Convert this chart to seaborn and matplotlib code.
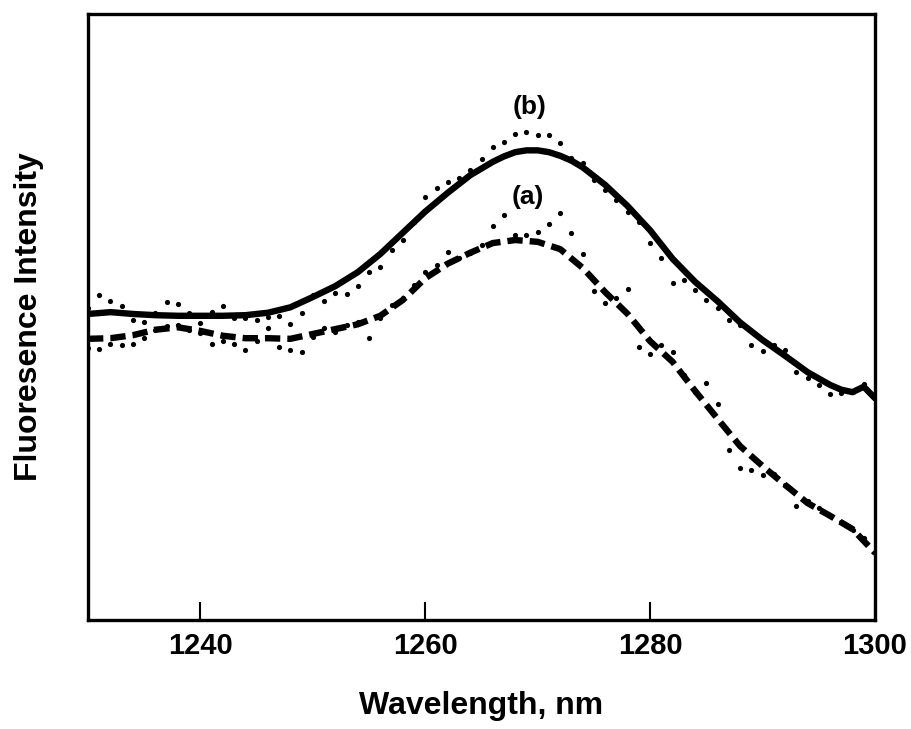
import numpy as np
import pandas as pd
import matplotlib
matplotlib.use("Agg")
import matplotlib.pyplot as plt
import seaborn as sns

sns.set_style("white")
plt.rcParams['font.family'] = ['Liberation Sans', 'DejaVu Sans']
plt.rcParams['text.color'] = 'black'
plt.rcParams['axes.labelcolor'] = 'black'
plt.rcParams['xtick.color'] = 'black'
plt.rcParams['ytick.color'] = 'black'

# Raw measured points (1 nm steps), arbitrary intensity units
wl_raw = list(range(1230, 1301))
raw_b = [51.5, 53.6, 52.6, 51.8, 49.5, 49.2, 50.7, 52.5, 52.1, 50.7,
         49.0, 50.8, 51.8, 49.8, 49.8, 49.5, 50.0, 50.2, 48.8, 50.7,
         53.6, 52.6, 54.0, 53.8, 55.1, 57.4, 58.3, 61.1, 62.7, 65.7,
         69.8, 71.3, 72.3, 72.9, 74.3, 76.1, 78.1, 78.9, 80.2, 80.5,
         80.0, 80.0, 78.7, 76.2, 75.4, 72.6, 71.0, 69.3, 67.3, 65.7,
         62.2, 59.7, 55.6, 56.1, 54.5, 52.8, 51.5, 49.5, 48.7, 45.4,
         44.4, 45.4, 44.6, 40.9, 39.9, 38.8, 37.3, 37.5, 37.6, 38.9,
         36.6]
raw_a = [44.9, 44.7, 45.5, 45.4, 45.5, 46.5, 47.9, 48.5, 48.7, 47.9,
         47.4, 45.5, 46.0, 45.5, 44.6, 46.0, 48.2, 45.0, 44.6, 44.2,
         46.7, 48.2, 47.5, 48.7, 49.2, 46.5, 49.8, 52.0, 53.1, 55.3,
         57.4, 58.6, 60.7, 59.7, 60.6, 61.9, 65.0, 66.8, 63.5, 63.5,
         64.0, 65.3, 67.2, 63.9, 60.4, 54.3, 52.3, 53.1, 54.6, 45.0,
         43.9, 45.4, 44.2, 40.4, 37.6, 39.1, 35.6, 28.1, 25.1, 24.8,
         23.9, 24.1, 22.3, 18.8, 19.6, 18.5, 17.2, 16.2, 14.9, 13.5,
         11.1]

# Smoothed curves
wl_b = [1230, 1232, 1234, 1236, 1238, 1240, 1242, 1244, 1246, 1248, 1250,
        1252, 1254, 1256, 1258, 1260, 1262, 1264, 1266, 1267, 1268, 1269,
        1270, 1271, 1272, 1273, 1274, 1276, 1278, 1280, 1282, 1284, 1286,
        1288, 1290, 1292, 1294, 1296, 1297, 1298, 1299, 1300]
smooth_b = [50.5, 50.8, 50.5, 50.3, 50.2, 50.2, 50.2, 50.3, 50.7, 51.6, 53.3,
            55.1, 57.4, 60.4, 63.9, 67.4, 70.5, 73.4, 75.6, 76.5, 77.2, 77.5,
            77.5, 77.2, 76.6, 75.8, 74.7, 71.8, 68.3, 64.3, 59.6, 55.8, 52.6,
            49.1, 46.2, 43.6, 40.9, 38.8, 38.0, 37.6, 38.5, 36.6]
wl_a = [1230, 1232, 1234, 1236, 1238, 1240, 1242, 1244, 1246, 1248, 1250,
        1252, 1254, 1256, 1258, 1260, 1262, 1264, 1266, 1268, 1270, 1272,
        1274, 1276, 1278, 1280, 1282, 1284, 1286, 1288, 1290, 1292, 1294,
        1296, 1298, 1300]
smooth_a = [46.4, 46.5, 47.0, 47.9, 48.3, 47.7, 46.9, 46.5, 46.5, 46.4, 47.2,
            48.0, 48.8, 50.2, 52.8, 56.4, 58.8, 60.6, 62.2, 62.7, 62.4, 61.2,
            58.1, 54.1, 50.5, 46.0, 42.6, 37.8, 33.2, 28.7, 25.4, 22.3, 19.3,
            17.2, 15.0, 11.1]

labels = ["(a)", "(b)"]
label_x = [1269.1, 1269.3]
label_y = [69.8, 84.7]

df_raw = pd.DataFrame({"wl": wl_raw * 2, "I": raw_a + raw_b,
                       "s": ["a"] * len(raw_a) + ["b"] * len(raw_b)})
df_b = pd.DataFrame({"wl": wl_b, "I": smooth_b})
df_a = pd.DataFrame({"wl": wl_a, "I": smooth_a})

fig = plt.figure(figsize=(9.12, 7.29), dpi=100)
ax = fig.add_axes([88 / 912, 1 - 620 / 729, (875 - 88) / 912, (620 - 14) / 729])

sns.scatterplot(data=df_raw, x="wl", y="I", ax=ax, color="black", s=14,
                linewidth=0, legend=False, zorder=2)
sns.lineplot(data=df_b, x="wl", y="I", ax=ax, color="black", lw=4.6,
             zorder=3, solid_capstyle="round", solid_joinstyle="round")
sns.lineplot(data=df_a, x="wl", y="I", ax=ax, color="black", lw=4.6,
             zorder=3, linestyle=(0, (2.4, 1.1)), dash_capstyle="butt",
             dash_joinstyle="round")

for t, xx, yy in zip(labels, label_x, label_y):
    ax.text(xx, yy, t, ha="center", va="center", fontsize=19,
            fontweight="bold", color="black")

ax.set_xlim(1230, 1300)
ax.set_ylim(0, 100)
ax.set_xticks([1240, 1260, 1280, 1300])
ax.set_yticks([])
ax.tick_params(axis="x", direction="in", length=13, width=1.5,
               labelsize=21, pad=9, bottom=True, colors="black")
for lab in ax.get_xticklabels():
    lab.set_fontweight("bold")
for sp in ax.spines.values():
    sp.set_visible(True)
    sp.set_linewidth(2.4)
    sp.set_color("black")

ax.set_xlabel("Wavelength, nm", fontsize=23, fontweight="bold", labelpad=22)
ax.set_ylabel("Fluoresence Intensity", fontsize=23, fontweight="bold",
              labelpad=32)

fig.savefig("out.png", dpi=100)
